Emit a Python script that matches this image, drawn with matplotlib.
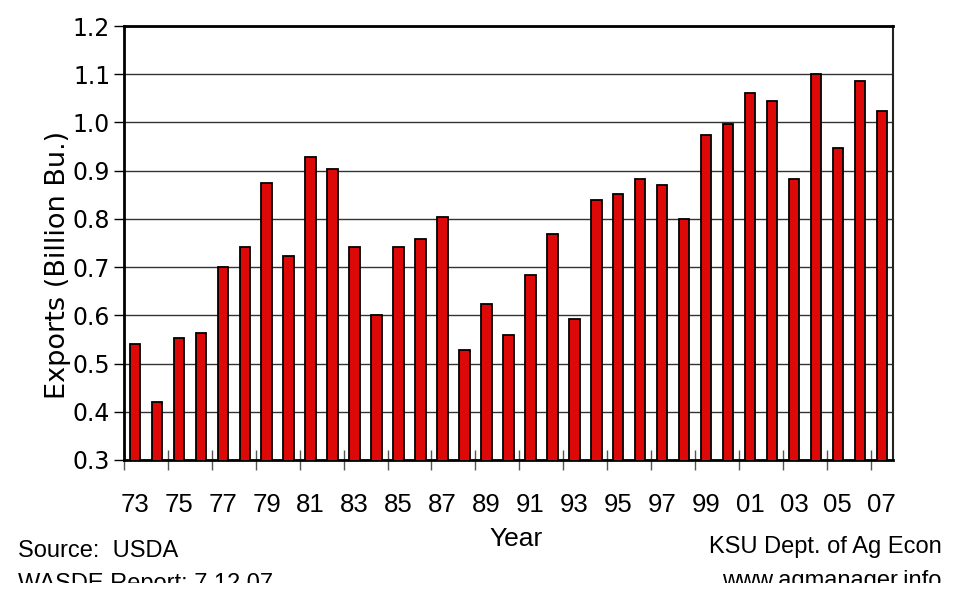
import matplotlib
matplotlib.use("Agg")
import matplotlib.pyplot as plt
from matplotlib.patches import Rectangle
from matplotlib.ticker import FixedLocator, NullFormatter

# 美国出口量（十亿蒲式耳），1973-2007
years = ["73", "74", "75", "76", "77", "78", "79", "80", "81", "82",
         "83", "84", "85", "86", "87", "88", "89", "90", "91", "92",
         "93", "94", "95", "96", "97", "98", "99", "00", "01", "02",
         "03", "04", "05", "06", "07"]
exports = [0.540, 0.421, 0.554, 0.563, 0.701, 0.741, 0.874, 0.723, 0.928, 0.904,
           0.741, 0.601, 0.741, 0.759, 0.803, 0.528, 0.624, 0.560, 0.683, 0.768,
           0.592, 0.840, 0.852, 0.883, 0.870, 0.800, 0.974, 0.997, 1.061, 1.044,
           0.883, 1.100, 0.947, 1.087, 1.023]
y_ticks = [0.3, 0.4, 0.5, 0.6, 0.7, 0.8, 0.9, 1.0, 1.1, 1.2]

narrow = ["Liberation Sans Narrow", "Liberation Sans", "DejaVu Sans"]
wide = ["DejaVu Sans"]

fig = plt.figure(figsize=(9.61, 5.97), dpi=100)
ax = fig.add_axes([0.129, 0.2295, 0.8, 0.7269])

x = list(range(len(years)))
ax.bar(x, exports, width=0.48, color="#dd0808",
       edgecolor="black", linewidth=1.3, zorder=3)

ax.set_xlim(-0.5, len(years) - 0.5)
ax.set_ylim(0.3, 1.2)
ax.set_yticks(y_ticks)
ax.set_yticklabels(["%.1f" % v for v in y_ticks], family=wide, fontsize=17)
ax.yaxis.grid(True, color="#333333", linewidth=1.0, zorder=0)

# 刻度线在类别边界，每隔两个
ax.xaxis.set_major_locator(FixedLocator([i - 0.5 for i in range(0, len(years), 2)]))
ax.xaxis.set_major_formatter(NullFormatter())
ax.xaxis.set_minor_locator(FixedLocator(x[::2]))
ax.set_xticklabels(years[::2], minor=True, family=narrow, fontsize=18.5)
ax.tick_params(axis="x", which="major", direction="inout", length=14, width=1, color="#555555")
ax.tick_params(axis="x", which="minor", length=0, pad=24)
ax.tick_params(axis="y", direction="out", length=7, width=1, pad=3)

for side in ["left", "bottom"]:
    ax.spines[side].set_linewidth(2)
ax.spines["top"].set_linewidth(2)
ax.spines["right"].set_linewidth(1.5)
ax.spines["right"].set_color("#222222")

# 纵轴标题
fig.text(0.0604, 0.556, "Exports (Billion Bu.)", family=wide, fontsize=19.5,
         rotation=90, ha="center", va="center")
fig.text(0.537, 0.0854, "Year", family=narrow, fontsize=19, ha="center", va="baseline")

fig.text(0.019, 0.067, "Source:  USDA", family=narrow, fontsize=17, ha="left", va="baseline")
fig.text(0.019, 0.0117, "WASDE Report: 7.12.07", family=narrow, fontsize=17, ha="left", va="baseline")
fig.text(0.980, 0.0737, "KSU Dept. of Ag Econ", family=narrow, fontsize=17, ha="right", va="baseline")
fig.text(0.980, 0.0168, "www.agmanager.info", family=narrow, fontsize=17, ha="right", va="baseline")

# 原图底部被裁掉一条
fig.add_artist(Rectangle((0, 0), 1, 14 / 597, transform=fig.transFigure,
                         facecolor="white", edgecolor="none", zorder=10))

fig.savefig("out.png", dpi=100)
